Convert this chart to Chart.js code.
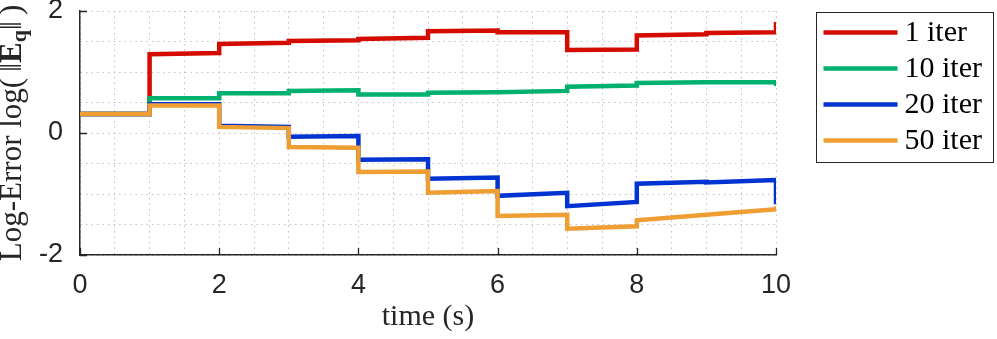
<!DOCTYPE html>
<html>
<head>
<meta charset="utf-8">
<script src="https://cdn.jsdelivr.net/npm/chart.js@4/dist/chart.umd.min.js"></script>
<style>
  html, body { margin: 0; padding: 0; background: #fff; }
  #wrap { width: 997px; height: 339px; }
</style>
</head>
<body>
<div id="wrap"><canvas id="errChart"></canvas></div>
<script>
// step breakpoints (s)
const times = [0, 1, 2, 3, 4, 5, 6, 7, 8, 9, 10];

// value at the start and at the end of each 1 s interval, plus the last sample
const iter1Start = [0.31, 1.29, 1.46, 1.51, 1.54, 1.67, 1.65, 1.36, 1.60, 1.64];
const iter1End = [0.31, 1.31, 1.48, 1.52, 1.56, 1.68, 1.65, 1.37, 1.62, 1.65];
const iter1Last = 1.82;

const iter10Start = [0.31, 0.57, 0.65, 0.69, 0.63, 0.66, 0.67, 0.76, 0.82, 0.83];
const iter10End = [0.31, 0.57, 0.65, 0.70, 0.63, 0.67, 0.69, 0.78, 0.83, 0.83];
const iter10Last = 0.77;

const iter20Start = [0.31, 0.47, 0.12, -0.06, -0.44, -0.75, -1.03, -1.20, -0.83, -0.81];
const iter20End = [0.31, 0.47, 0.10, -0.05, -0.43, -0.73, -0.98, -1.13, -0.80, -0.77];
const iter20Last = -1.17;

const iter50Start = [0.31, 0.45, 0.10, -0.23, -0.64, -0.98, -1.36, -1.57, -1.43, -1.34];
const iter50End = [0.31, 0.45, 0.08, -0.24, -0.63, -0.95, -1.34, -1.53, -1.34, -1.25];
const iter50Last = -1.20;

const seriesLabels = ["1 iter", "10 iter", "20 iter", "50 iter"];
const xTickLabels = [0, 2, 4, 6, 8, 10];
const yTickLabels = [-2, 0, 2];

const colors = ["#d40c00", "#00b06e", "#0034d2", "#ee9e32"];
const axisColor = "#262626";
const serif = '"Liberation Serif", "Times New Roman", serif';
const sans = '"Liberation Sans", Arial, sans-serif';

function stepPoints(starts, ends, last) {
  const pts = [];
  for (let i = 0; i < starts.length; i++) {
    pts.push({ x: times[i], y: starts[i] });
    pts.push({ x: times[i + 1], y: ends[i] });
  }
  pts.push({ x: times[times.length - 1], y: last });
  return pts;
}

const seriesData = [
  stepPoints(iter1Start, iter1End, iter1Last),
  stepPoints(iter10Start, iter10End, iter10Last),
  stepPoints(iter20Start, iter20End, iter20Last),
  stepPoints(iter50Start, iter50End, iter50Last),
];

// inward tick marks, y title with subscript, boxed legend
const decorations = {
  id: "decorations",
  afterDraw(chart) {
    const { ctx, chartArea: area, scales } = chart;
    ctx.save();

    ctx.strokeStyle = axisColor;
    ctx.lineWidth = 1.3;
    ctx.beginPath();
    xTickLabels.forEach((v) => {
      const px = Math.round(scales.x.getPixelForValue(v)) + 0.5;
      ctx.moveTo(px, area.bottom);
      ctx.lineTo(px, area.bottom - 7);
    });
    yTickLabels.forEach((v) => {
      const py = Math.round(scales.y.getPixelForValue(v)) + 0.5;
      ctx.moveTo(area.left, py);
      ctx.lineTo(area.left + 7, py);
    });
    ctx.stroke();

    // y axis title
    const parts = [
      { t: "Log-Error log(\u2009\u2016", f: "31px " + serif, dy: 0 },
      { t: "E", f: "bold 31px " + serif, dy: 0 },
      { t: "q", f: "bold 22px " + serif, dy: 5 },
      { t: "\u2016\u2009)", f: "31px " + serif, dy: 0 },
    ];
    let total = 0;
    parts.forEach((p) => {
      ctx.font = p.f;
      p.w = ctx.measureText(p.t).width;
      total += p.w;
    });
    ctx.translate(21, (area.top + area.bottom) / 2);
    ctx.rotate(-Math.PI / 2);
    ctx.fillStyle = axisColor;
    ctx.textBaseline = "alphabetic";
    let cx = -total / 2;
    parts.forEach((p) => {
      ctx.font = p.f;
      ctx.fillText(p.t, cx, p.dy);
      cx += p.w;
    });
    ctx.setTransform(1, 0, 0, 1, 0, 0);

    // legend
    const bx = area.right + 40.5;
    const by = 12.5;
    const bw = 177;
    const bh = 150;
    ctx.fillStyle = "#fff";
    ctx.fillRect(bx, by, bw, bh);
    ctx.strokeStyle = axisColor;
    ctx.lineWidth = 1;
    ctx.strokeRect(bx, by, bw, bh);
    ctx.font = "30px " + serif;
    seriesLabels.forEach((label, i) => {
      const ly = by + 20 + i * 36;
      ctx.strokeStyle = colors[i];
      ctx.lineWidth = 4.5;
      ctx.beginPath();
      ctx.moveTo(bx + 7, ly);
      ctx.lineTo(bx + 81, ly);
      ctx.stroke();
      ctx.fillStyle = "#000";
      ctx.fillText(label, bx + 88, ly + 8);
    });

    ctx.restore();
  },
};

const gridStyle = { color: "#c2c2c2", lineWidth: 1, drawTicks: false };
const borderStyle = { color: axisColor, width: 1.5, dash: [1.5, 4] };

new Chart(document.getElementById("errChart"), {
  type: "line",
  data: {
    datasets: seriesData.map((pts, i) => ({
      label: seriesLabels[i],
      data: pts,
      borderColor: colors[i],
      backgroundColor: colors[i],
      borderWidth: 4.5,
      pointRadius: 0,
      tension: 0,
      order: 4 - i,
    })),
  },
  options: {
    responsive: true,
    maintainAspectRatio: false,
    animation: false,
    events: [],
    layout: { padding: { top: 11, right: 221, bottom: 0, left: 0 } },
    plugins: { legend: { display: false }, tooltip: { enabled: false } },
    scales: {
      x: {
        type: "linear",
        min: 0,
        max: 10,
        afterFit(scale) {
          scale.height = 84;
          scale.paddingLeft = 0;
          scale.paddingRight = 0;
        },
        ticks: {
          stepSize: 0.5,
          autoSkip: false,
          maxRotation: 0,
          padding: 14,
          color: axisColor,
          font: { family: sans, size: 27 },
          callback: (v) => (xTickLabels.includes(v) ? String(v) : ""),
        },
        grid: gridStyle,
        border: borderStyle,
        title: {
          display: true,
          text: "time (s)",
          color: axisColor,
          font: { family: serif, size: 30 },
          padding: { top: 0, bottom: 4 },
        },
      },
      y: {
        min: -2,
        max: 2,
        afterFit(scale) {
          scale.width = 80;
          scale.paddingTop = 0;
          scale.paddingBottom = 0;
        },
        ticks: {
          stepSize: 0.5,
          autoSkip: false,
          padding: 17,
          color: axisColor,
          font: { family: sans, size: 27 },
          callback: (v) => (yTickLabels.includes(v) ? String(v) : ""),
        },
        grid: gridStyle,
        border: borderStyle,
      },
    },
  },
  plugins: [decorations],
});
</script>
</body>
</html>
